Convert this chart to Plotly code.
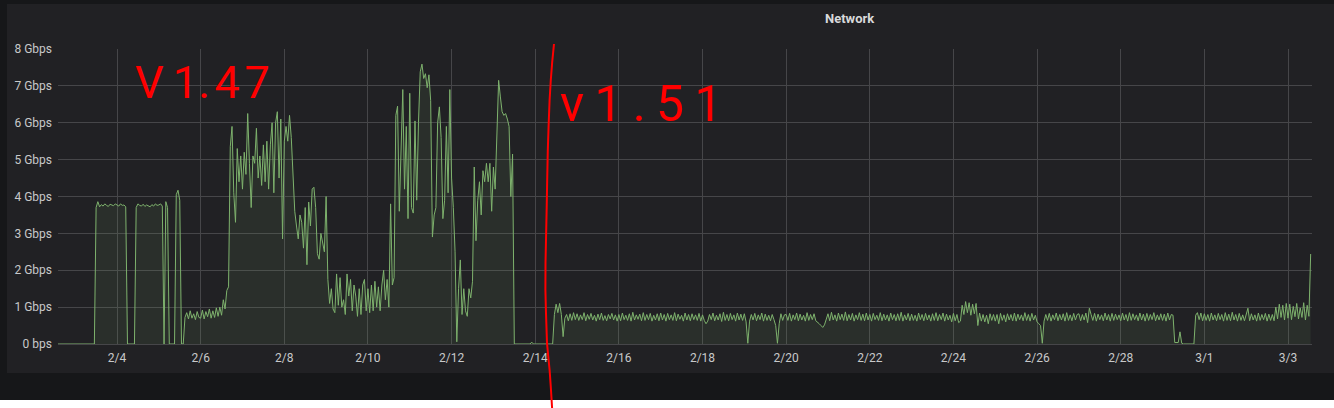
import plotly.graph_objects as go
import pandas as pd

# ---------------- data (Gbps, hourly samples starting 2020-02-02 14:00) ----------------
start_time = "2020-02-02 14:00"

feb02 = [0, 0, 0, 0, 0, 0, 0, 0, 0, 0]
feb03 = [0, 0, 0, 0, 0, 0, 0, 0, 0, 0, 0, 0, 3.7, 3.86, 3.72, 3.78, 3.74, 3.8, 3.76, 3.73, 3.79, 3.77, 3.75, 3.8]
feb04 = [3.78, 3.74, 3.8, 3.76, 3.77, 3.72, 0, 0, 0, 0, 0, 3.7, 3.8, 3.76, 3.74, 3.79, 3.73, 3.77, 3.75, 3.72, 3.78, 3.74, 3.8, 3.76]
feb05 = [3.77, 3.8, 3.74, 0, 3.86, 3.7, 0, 0, 0, 0, 4.05, 4.17, 3.9, 0, 0, 0.72, 0.85, 0.68, 0.9, 0.7, 0.82, 0.66, 0.88, 0.72]
feb06 = [0.7, 0.92, 0.68, 0.88, 0.74, 0.95, 0.7, 0.9, 0.72, 0.98, 0.75, 1.0, 0.78, 1.2, 0.95, 1.45, 1.55, 5.35, 5.9, 4.1, 3.3, 5.3, 4.4, 5.1]
feb07 = [4.2, 5.2, 4.6, 6.25, 4.9, 3.7, 5.1, 4.9, 5.85, 4.5, 5.1, 4.3, 5.4, 4.4, 5.5, 4.2, 5.4, 6.0, 4.1, 6.0, 6.3, 4.5, 6.1, 2.85]
feb08 = [5.5, 5.9, 5.5, 6.2, 5.6, 4.4, 3.6, 3.2, 2.85, 3.5, 3.3, 2.6, 3.7, 2.15, 3.85, 3.2, 4.2, 4.25, 3.7, 2.45, 2.3, 3.0, 2.75, 2.5]
feb09 = [4.0, 1.75, 1.1, 1.5, 0.95, 0.85, 1.9, 1.05, 1.8, 1.0, 1.2, 0.8, 1.9, 1.3, 1.75, 0.9, 1.6, 1.3, 0.75, 1.5, 0.8, 1.6, 1.75, 0.9]
feb10 = [1.5, 0.85, 1.6, 0.9, 1.7, 1.0, 1.55, 0.9, 1.6, 2.0, 1.2, 1.75, 1.0, 3.8, 1.6, 1.8, 6.2, 6.45, 3.6, 5.0, 6.9, 4.2, 5.9, 3.4]
feb11 = [6.8, 3.7, 3.55, 6.05, 3.9, 6.0, 7.38, 7.59, 7.2, 7.33, 6.95, 7.3, 6.6, 2.9, 3.5, 3.7, 6.0, 6.43, 5.6, 3.4, 3.9, 5.9, 4.1, 6.9]
feb12 = [4.5, 3.7, 2.5, 0.06, 1.5, 2.28, 0.8, 1.5, 0.9, 0.75, 1.5, 1.25, 1.7, 4.8, 2.8, 3.9, 4.4, 3.5, 4.7, 4.4, 4.9, 4.4, 4.9, 3.6]
feb13 = [4.8, 4.2, 6.0, 7.15, 6.7, 6.3, 6.2, 6.25, 6.1, 5.9, 4.0, 5.15, 0, 0, 0, 0, 0, 0, 0, 0, 0, 0, 0.05, 0]
feb14 = [0, 0, 0, 0, 0, 0, 0, 0, 0, 0, 0, 0.8, 1.08, 0.85, 1.1, 0.8, 0.2, 0.7, 0.8, 0.63, 0.82, 0.64, 0.85, 0.66]
feb15 = [0.82, 0.64, 0.79, 0.66, 0.85, 0.63, 0.8, 0.67, 0.83, 0.65, 0.78, 0.62, 0.81, 0.66, 0.84, 0.64, 0.77, 0.63, 0.8, 0.68, 0.83, 0.65, 0.79, 0.62]
feb16 = [0.8, 0.63, 0.84, 0.66, 0.78, 0.64, 0.82, 0.62, 0.86, 0.65, 0.79, 0.67, 0.81, 0.63, 0.85, 0.64, 0.8, 0.66, 0.83, 0.62, 0.78, 0.65, 0.82, 0.63]
feb17 = [0.84, 0.65, 0.8, 0.62, 0.83, 0.66, 0.79, 0.64, 0.85, 0.63, 0.81, 0.67, 0.78, 0.62, 0.84, 0.65, 0.8, 0.63, 0.82, 0.66, 0.79, 0.64, 0.83, 0.62]
feb18 = [0.79, 0.64, 0.55, 0.62, 0.8, 0.66, 0.84, 0.63, 0.78, 0.65, 0.82, 0.61, 0.86, 0.64, 0.8, 0.63, 0.83, 0.66, 0.79, 0.62, 0.84, 0.65, 0.81, 0.64]
feb19 = [0.82, 0.6, 0.02, 0.62, 0.8, 0.65, 0.83, 0.63, 0.79, 0.66, 0.84, 0.62, 0.81, 0.64, 0.78, 0.63, 0.8, 0.66, 0.5, 0.02, 0.55, 0.82, 0.64, 0.79]
feb20 = [0.8, 0.64, 0.83, 0.62, 0.79, 0.66, 0.84, 0.63, 0.81, 0.65, 0.78, 0.62, 0.85, 0.64, 0.8, 0.66, 0.82, 0.63, 0.6, 0.55, 0.5, 0.45, 0.52, 0.7]
feb21 = [0.82, 0.63, 0.86, 0.65, 0.79, 0.62, 0.84, 0.66, 0.81, 0.64, 0.87, 0.63, 0.8, 0.65, 0.83, 0.62, 0.79, 0.66, 0.85, 0.64, 0.81, 0.63, 0.84, 0.65]
feb22 = [0.8, 0.62, 0.83, 0.66, 0.78, 0.64, 0.85, 0.63, 0.81, 0.65, 0.79, 0.62, 0.84, 0.66, 0.8, 0.63, 0.82, 0.64, 0.86, 0.62, 0.79, 0.65, 0.83, 0.63]
feb23 = [0.81, 0.64, 0.78, 0.62, 0.84, 0.66, 0.8, 0.63, 0.83, 0.65, 0.79, 0.62, 0.82, 0.64, 0.85, 0.63, 0.8, 0.66, 0.84, 0.62, 0.81, 0.65, 0.78, 0.6]
feb24 = [0.83, 0.63, 0.8, 0.58, 0.62, 1.05, 0.8, 1.15, 0.85, 1.12, 0.78, 1.08, 0.82, 1.1, 0.5, 0.84, 0.62, 0.8, 0.6, 0.78, 0.55, 0.82, 0.64, 0.8]
feb25 = [0.62, 0.8, 0.55, 0.83, 0.64, 0.79, 0.6, 0.82, 0.65, 0.8, 0.63, 0.84, 0.62, 0.81, 0.66, 0.79, 0.63, 0.85, 0.64, 0.8, 0.62, 0.83, 0.65, 0.78]
feb26 = [0.6, 0.55, 0.5, 0.02, 0.62, 0.8, 0.64, 0.83, 0.62, 0.79, 0.66, 0.84, 0.63, 0.8, 0.65, 0.82, 0.62, 0.85, 0.64, 0.79, 0.63, 0.83, 0.65, 0.8]
feb27 = [0.82, 0.63, 0.8, 0.65, 0.84, 0.58, 0.97, 0.8, 0.64, 0.83, 0.62, 0.81, 0.66, 0.79, 0.63, 0.84, 0.65, 0.8, 0.62, 0.83, 0.64, 0.81, 0.66, 0.79]
feb28 = [0.63, 0.84, 0.65, 0.8, 0.62, 0.85, 0.64, 0.82, 0.66, 0.79, 0.63, 0.84, 0.65, 0.81, 0.62, 0.83, 0.64, 0.8, 0.66, 0.85, 0.63, 0.79, 0.65, 0.82]
feb29 = [0.64, 0.81, 0.62, 0.84, 0.65, 0.8, 0.78, 0.04, 0.04, 0.04, 0.33, 0.02, 0, 0, 0, 0, 0, 0, 0, 0.78, 0.85, 0.66, 0.84, 0.63]
mar01 = [0.82, 0.64, 0.8, 0.62, 0.84, 0.65, 0.79, 0.63, 0.83, 0.66, 0.8, 0.62, 0.85, 0.64, 0.81, 0.63, 0.86, 0.65, 0.8, 0.62, 0.83, 0.64, 0.79, 0.63]
mar02 = [0.8, 0.97, 0.63, 0.82, 0.65, 0.79, 0.62, 0.84, 0.64, 0.8, 0.66, 0.83, 0.62, 0.81, 0.64, 0.8, 0.63, 1.0, 0.68, 1.08, 0.72, 1.05, 0.65, 1.1]
mar03 = [0.7, 1.08, 0.66, 1.02, 0.74, 1.1, 0.68, 0.98, 0.72, 1.12, 0.65, 1.05, 0.75, 2.44]

tick_dates = ["2020-02-04", "2020-02-06", "2020-02-08", "2020-02-10", "2020-02-12", "2020-02-14",
              "2020-02-16", "2020-02-18", "2020-02-20", "2020-02-22", "2020-02-24", "2020-02-26",
              "2020-02-28", "2020-03-01", "2020-03-03"]
tick_text = ["2/4", "2/6", "2/8", "2/10", "2/12", "2/14", "2/16", "2/18", "2/20", "2/22",
             "2/24", "2/26", "2/28", "3/1", "3/3"]
y_ticks = [0, 1, 2, 3, 4, 5, 6, 7, 8]
y_text = ["0 bps", "1 Gbps", "2 Gbps", "3 Gbps", "4 Gbps", "5 Gbps", "6 Gbps", "7 Gbps", "8 Gbps"]

days = [feb02, feb03, feb04, feb05, feb06, feb07, feb08, feb09, feb10, feb11, feb12, feb13, feb14,
        feb15, feb16, feb17, feb18, feb19, feb20, feb21, feb22, feb23, feb24, feb25, feb26, feb27,
        feb28, feb29, mar01, mar02, mar03]
values = [v for d in days for v in d]
times = pd.date_range(start_time, periods=len(values), freq="h")

# ---------------- figure geometry ----------------
W, H = 1334, 408
L, R, T, B = 58, 22, 49, 64
PW, PH = W - L - R, H - T - B


def px(x):
    return (x - L) / PW


def py(y):
    return (H - B - y) / PH


fig = go.Figure()
fig.add_trace(go.Scatter(
    x=times, y=values, mode="lines",
    line=dict(color="#7EB26D", width=1),
    fill="tozeroy", fillcolor="rgba(126,178,109,0.10)",
    hoverinfo="skip", showlegend=False,
))

shapes = []
# dark dashboard background (page below it stays white)
shapes.append(dict(type="rect", xref="paper", yref="paper", x0=px(-10), x1=px(1345), y0=py(400), y1=py(-10),
                   fillcolor="#161719", line=dict(width=0), layer="below"))
# grafana panel
shapes.append(dict(type="rect", xref="paper", yref="paper", x0=px(7), x1=px(1345), y0=py(373), y1=py(4),
                   fillcolor="#212124", line=dict(width=0), layer="below"))
# hand drawn red separator
red_pts = [(554, 44), (552.2, 62), (550.8, 80), (549.6, 100), (548.7, 123), (547.8, 150), (547.2, 180),
           (546.7, 207), (546.0, 240), (545.5, 263), (545.4, 290), (546.0, 313), (547.0, 343),
           (548.4, 358), (549.6, 370), (550.8, 387), (552.2, 410)]
path = "M " + " L ".join(f"{px(a):.5f},{py(b):.5f}" for a, b in red_pts)
shapes.append(dict(type="path", xref="paper", yref="paper", path=path,
                   line=dict(color="#ff0000", width=2), layer="above"))

annotations = [
    dict(text="<b>Network</b>", xref="paper", yref="paper", x=px(850), y=py(18), showarrow=False,
         xanchor="center", yanchor="middle", font=dict(family="Roboto", size=13, color="#d8d9da")),
    dict(text="V\u20091.\u200a4\u200a7", xref="paper", yref="paper", x=px(133), y=py(82), showarrow=False,
         xanchor="left", yanchor="middle",
         font=dict(family="Roboto", size=45, color="#ff0000", weight=400)),
    dict(text="v\u20091\u2009.\u20095\u20091", xref="paper", yref="paper", x=px(558), y=py(104),
         showarrow=False, xanchor="left", yanchor="middle",
         font=dict(family="Roboto", size=50, color="#ff0000", weight=400)),
]

grid = "#464649"
fig.update_layout(
    width=W, height=H, autosize=False,
    margin=dict(l=L, r=R, t=T, b=B, pad=0),
    paper_bgcolor="#ffffff", plot_bgcolor="#212124",
    shapes=shapes, annotations=annotations,
    font=dict(family="Roboto", size=12, color="#c8c9ca"),
    xaxis=dict(
        type="date",
        range=["2020-02-02 14:08", "2020-03-03 13:46"],
        tickvals=tick_dates, ticktext=tick_text,
        showgrid=True, gridcolor=grid, gridwidth=1,
        zeroline=False, showline=False, ticks="",
        ticklabelstandoff=5, automargin=False,
        tickfont=dict(family="Roboto", size=12, color="#c8c9ca"),
    ),
    yaxis=dict(
        range=[0, 8], tickvals=y_ticks, ticktext=y_text,
        showgrid=True, gridcolor=grid, gridwidth=1,
        zeroline=True, zerolinecolor=grid, zerolinewidth=1,
        showline=False, ticks="", ticklabelstandoff=5, automargin=False,
        tickfont=dict(family="Roboto", size=12, color="#c8c9ca"),
    ),
)

fig.write_html("out.html", config={"displayModeBar": False},
               post_script="document.body.style.margin='0';document.body.style.overflow='hidden';")
